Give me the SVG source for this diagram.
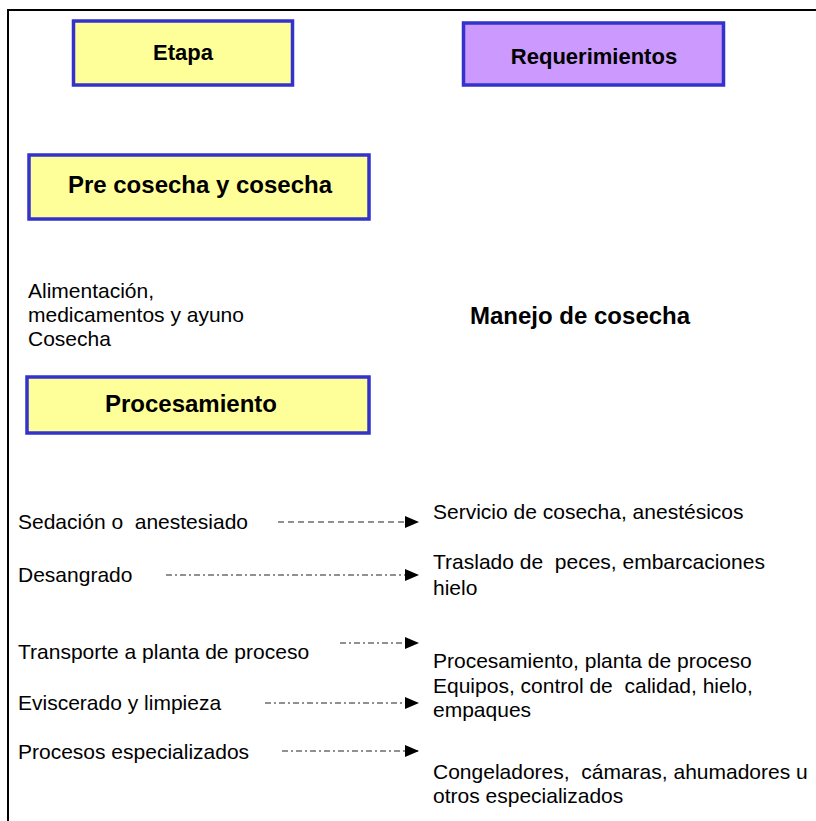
<svg xmlns="http://www.w3.org/2000/svg" width="816" height="821" viewBox="0 0 816 821">
<style>
.t{font-family:"Liberation Sans",Arial,sans-serif;font-size:21px;fill:#000}
.b{font-family:"Liberation Sans",Arial,sans-serif;font-weight:bold;fill:#000}
.y{fill:#FFFF99;stroke:#3333CC;stroke-width:3.5}
.p{fill:#CC99FF;stroke:#3333CC;stroke-width:3.5}
.c{stroke:#222;stroke-width:1.2;fill:none}
</style>
<defs>
<marker id="ah" markerWidth="14" markerHeight="12" refX="13" refY="6" orient="auto" markerUnits="userSpaceOnUse">
<path d="M0,0 L14,6 L0,12 Z" fill="#000"/>
</marker>
</defs>
<rect width="816" height="821" fill="#fff"/>
<path d="M8,821 V10 H816" fill="none" stroke="#000" stroke-width="2"/>

<g id="etapa"><rect class="y" x="73.5" y="21" width="219" height="64"/><text class="b" font-size="22" x="183" y="60" text-anchor="middle">Etapa</text></g>
<g id="requerimientos"><rect class="p" x="463.5" y="23" width="260" height="62"/><text class="b" font-size="22" x="594" y="64" text-anchor="middle">Requerimientos</text></g>
<g id="precosecha"><rect class="y" x="29" y="155" width="340" height="64"/><text class="b" font-size="24" x="200" y="193" text-anchor="middle">Pre cosecha y cosecha</text></g>
<g id="alimentacion"><text class="t" x="28" y="298">Alimentación,</text><text class="t" x="28" y="322">medicamentos y ayuno</text><text class="t" x="28" y="346">Cosecha</text></g>
<g id="manejo"><text class="b" font-size="24" x="470" y="324">Manejo de cosecha</text></g>
<g id="procesamiento"><rect class="y" x="27" y="377" width="342" height="56"/><text class="b" font-size="24" x="191" y="412" text-anchor="middle">Procesamiento</text></g>

<g id="sedacion"><text class="t" x="18" y="529" xml:space="preserve">Sedación o  anestesiado</text></g>
<g id="desangrado"><text class="t" x="18" y="582">Desangrado</text></g>
<g id="transporte"><text class="t" x="18" y="659">Transporte a planta de proceso</text></g>
<g id="eviscerado"><text class="t" x="18" y="710">Eviscerado y limpieza</text></g>
<g id="procesos"><text class="t" x="18" y="759">Procesos especializados</text></g>

<g id="servicio"><text class="t" x="433" y="519">Servicio de cosecha, anestésicos</text></g>
<g id="traslado"><text class="t" x="433" y="569" xml:space="preserve">Traslado de  peces, embarcaciones</text><text class="t" x="433" y="595">hielo</text></g>
<g id="planta"><text class="t" x="433" y="668">Procesamiento, planta de proceso</text><text class="t" x="433" y="693" xml:space="preserve">Equipos, control de  calidad, hielo,</text><text class="t" x="433" y="717">empaques</text></g>
<g id="congeladores"><text class="t" x="433" y="779" xml:space="preserve">Congeladores,  cámaras, ahumadores u</text><text class="t" x="433" y="803">otros especializados</text></g>

<g id="connectors">
<line class="c" x1="278" y1="522" x2="418" y2="522" stroke-dasharray="6 4" marker-end="url(#ah)"/>
<line class="c" x1="166" y1="575" x2="418" y2="575" stroke-dasharray="6 3 2 3" marker-end="url(#ah)"/>
<line class="c" x1="340" y1="643" x2="418" y2="643" stroke-dasharray="6 3 2 3" marker-end="url(#ah)"/>
<line class="c" x1="265" y1="703" x2="418" y2="703" stroke-dasharray="6 3 2 3" marker-end="url(#ah)"/>
<line class="c" x1="282" y1="751" x2="418" y2="751" stroke-dasharray="6 3 2 3" marker-end="url(#ah)"/>
</g>
</svg>
